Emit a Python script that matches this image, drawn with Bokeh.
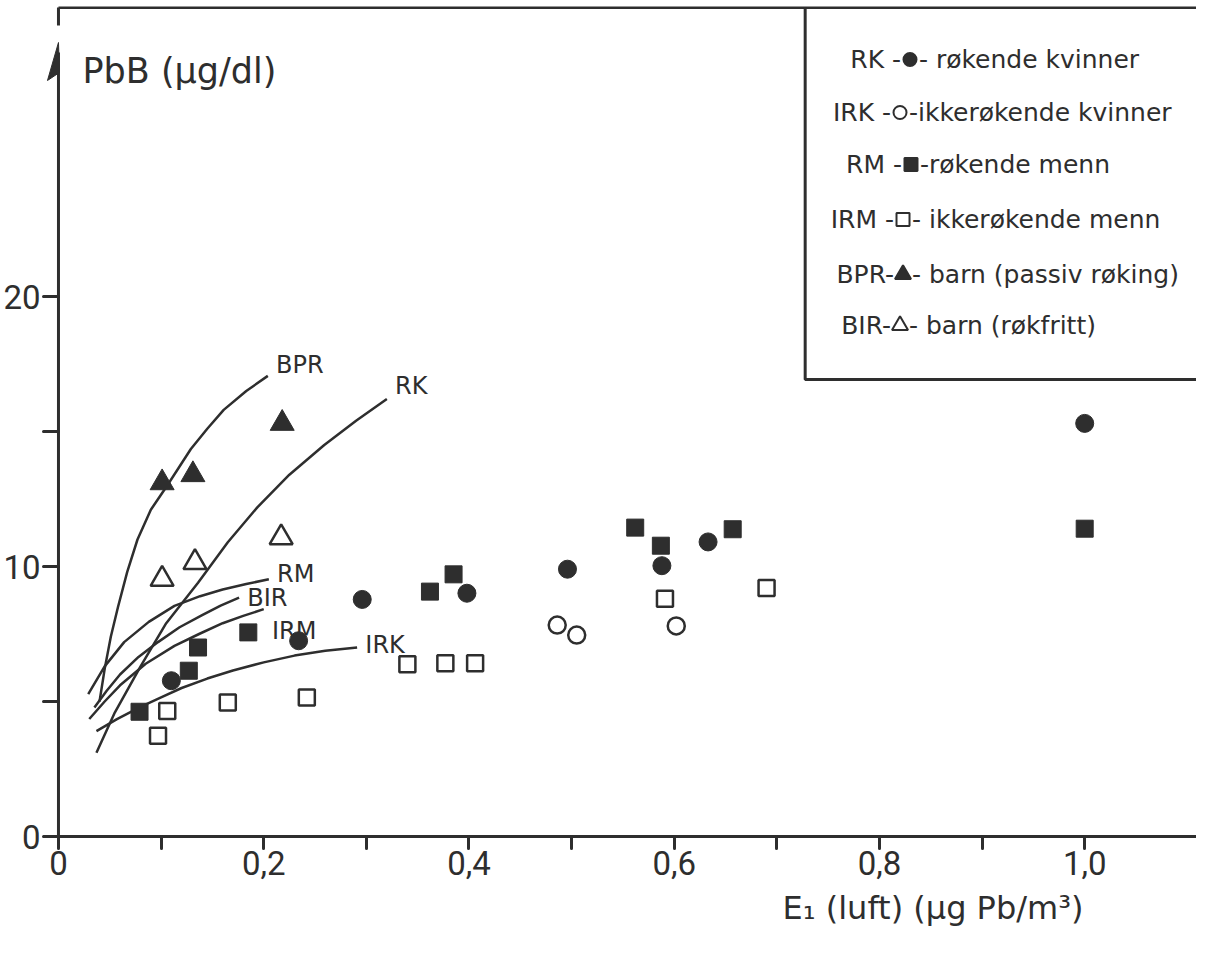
from bokeh.plotting import figure
from bokeh.models import Range1d, FixedTicker, Label, Title
from bokeh.embed import file_html
from bokeh.resources import INLINE

# ---------------- data ----------------
rk_x = [0.110, 0.234, 0.296, 0.398, 0.496, 0.588, 0.633, 1.0]
rk_y = [5.77, 7.25, 8.78, 9.01, 9.90, 10.03, 10.91, 15.3]

irk_x = [0.486, 0.505, 0.602]
irk_y = [7.83, 7.46, 7.80]

rm_x = [0.079, 0.127, 0.136, 0.185, 0.362, 0.385, 0.562, 0.587, 0.657, 1.0]
rm_y = [4.62, 6.14, 7.00, 7.56, 9.07, 9.71, 11.44, 10.77, 11.38, 11.4]

irm_x = [0.097, 0.106, 0.165, 0.242, 0.340, 0.377, 0.406, 0.591, 0.690]
irm_y = [3.73, 4.65, 4.96, 5.15, 6.38, 6.42, 6.42, 8.81, 9.20]

bpr_x = [0.101, 0.131, 0.218]
bpr_y = [13.1, 13.4, 15.3]

bir_x = [0.101, 0.133, 0.217]
bir_y = [9.53, 10.15, 11.07]

# fitted curves
bpr_cx = [0.040, 0.045, 0.051, 0.058, 0.067, 0.077, 0.090, 0.106, 0.129, 0.145, 0.161, 0.183, 0.204]
bpr_cy = [5.0, 6.2, 7.4, 8.5, 9.8, 11.0, 12.1, 13.0, 14.35, 15.1, 15.8, 16.5, 17.06]
rk_cx = [0.037, 0.055, 0.080, 0.105, 0.136, 0.165, 0.194, 0.225, 0.259, 0.290, 0.320]
rk_cy = [3.1, 4.6, 6.3, 7.9, 9.4, 10.9, 12.2, 13.4, 14.5, 15.4, 16.2]
rm_cx = [0.029, 0.045, 0.064, 0.088, 0.113, 0.138, 0.160, 0.183, 0.205]
rm_cy = [5.27, 6.3, 7.2, 7.95, 8.54, 8.9, 9.15, 9.35, 9.53]
bir_cx = [0.035, 0.047, 0.060, 0.078, 0.097, 0.118, 0.140, 0.158, 0.176]
bir_cy = [4.78, 5.4, 6.0, 6.65, 7.2, 7.75, 8.2, 8.55, 8.85]
irm_cx = [0.030, 0.045, 0.060, 0.085, 0.113, 0.137, 0.160, 0.180, 0.200]
irm_cy = [4.35, 5.0, 5.6, 6.4, 7.06, 7.5, 7.9, 8.17, 8.42]
irk_cx = [0.037, 0.057, 0.080, 0.100, 0.120, 0.145, 0.170, 0.200, 0.230, 0.260, 0.291]
irk_cy = [3.9, 4.35, 4.8, 5.15, 5.5, 5.85, 6.15, 6.45, 6.7, 6.88, 7.0]

x_ticks = [0, 0.1, 0.2, 0.3, 0.4, 0.5, 0.6, 0.7, 0.8, 0.9, 1.0]
x_tick_labels = ["0", "", "0,2", "", "0,4", "", "0,6", "", "0,8", "", "1,0"]
y_ticks = [0, 5, 10, 15, 20]
y_tick_labels = ["0", "", "10", "", "20"]

legend_codes = ["RK -", "IRK -", "RM -", "IRM -", "BPR-", "BIR-"]
legend_desc = ["- røkende kvinner", "-ikkerøkende kvinner", "-røkende menn",
               "- ikkerøkende menn", "- barn (passiv røking)", "- barn (røkfritt)"]
legend_marker = ["circle", "circle", "square", "square", "triangle", "triangle"]
legend_filled = [True, False, True, False, True, False]

curve_labels = ["BPR", "RK", "RM", "BIR", "IRM", "IRK"]

# ---------------- layout ----------------
INK = "#2e2e2e"
FONT = "DejaVu Sans"
NUMFONT = "Roboto"
W, H = 1196, 937
PAD = 15                          # frame starts 15 px left of the y axis line
LEFT, TOP = 56 - PAD, 6
FRAME_H = 830
PXX, PXY = 1028.0, 27.0          # pixels per data unit
x_start = -PAD / PXX
x_end = (W - 56) / PXX
y_end = FRAME_H / PXY


def X(px):   # page pixel -> data x (layout helper for annotations)
    return (px - 64) / PXX


def Y(py):   # page pixel -> data y
    return (844 - py) / PXY


p = figure(width=W, height=H, x_range=Range1d(x_start, x_end), y_range=Range1d(0, y_end),
           output_backend="svg", toolbar_location=None,
           min_border_left=LEFT, min_border_right=0, min_border_top=TOP,
           min_border_bottom=H - TOP - FRAME_H)
p.outline_line_color = None
p.grid.visible = False
p.background_fill_color = "white"
p.border_fill_color = "white"

for ax, ticks, labels in ((p.xaxis[0], x_ticks, x_tick_labels), (p.yaxis[0], y_ticks, y_tick_labels)):
    ax.ticker = FixedTicker(ticks=ticks, minor_ticks=[])
    ax.major_label_overrides = {t: l for t, l in zip(ticks, labels)}
    ax.axis_line_width = 3
    ax.axis_line_color = INK
    ax.major_tick_line_width = 3
    ax.major_tick_line_color = INK
    ax.major_tick_line_cap = "round"
    ax.minor_tick_out = 0
    ax.minor_tick_in = 0
    ax.major_label_text_font = NUMFONT
    ax.major_label_text_font_size = "33px"
    ax.major_label_text_color = INK
p.xaxis.major_tick_out = 12
p.xaxis.major_tick_in = 0
p.xaxis.major_label_standoff = 2
# y axis: ticks reach from the frame edge to the drawn axis line at x = 0
p.yaxis.axis_line_color = None
p.yaxis.major_tick_out = 0
p.yaxis.major_tick_in = PAD
p.yaxis.major_label_standoff = 3

# y axis line, arrow head (half barb) and the top frame corner
p.line([0, 0], [0, Y(60)], line_width=3, line_color=INK)
p.patch([X(64), X(53), X(65)], [Y(50), Y(88), Y(80)], fill_color=INK, line_color=INK, line_width=1)
p.line([0, x_end], [Y(15), Y(15)], line_width=3, line_color=INK)
p.line([0, 0], [Y(15), Y(33)], line_width=3, line_color=INK)

# x-axis title (right part of the bottom band)
p.add_layout(Title(text="E₁ (luft) (µg Pb/m³)", align="left", offset=724 + PAD,
                   text_font=FONT, text_font_size="32px", text_font_style="normal",
                   text_color=INK, standoff=18), "below")

# fitted curves
for cx, cy in ((bpr_cx, bpr_cy), (rk_cx, rk_cy), (rm_cx, rm_cy),
               (bir_cx, bir_cy), (irm_cx, irm_cy), (irk_cx, irk_cy)):
    p.line(cx, cy, line_width=2.5, line_color=INK, line_join="round")

# curve end labels
label_ends = [(bpr_cx, bpr_cy), (rk_cx, rk_cy), (rm_cx, rm_cy),
              (bir_cx, bir_cy), (irm_cx, irm_cy), (irk_cx, irk_cy)]
label_dy = [0.4, 0.5, 0.2, 0.0, -0.8, 0.1]
for name, (cx, cy), dy in zip(curve_labels, label_ends, label_dy):
    p.add_layout(Label(x=cx[-1] + 0.008, y=cy[-1] + dy, text=name, text_font=FONT,
                       text_font_size="24px", text_color=INK, text_baseline="middle"))

# data points
p.scatter(rk_x, rk_y, marker="circle", size=18, fill_color=INK, line_color=INK)
p.scatter(irk_x, irk_y, marker="circle", size=17, fill_color="white", line_color=INK, line_width=2.5)
p.scatter(rm_x, rm_y, marker="square", size=17, fill_color=INK, line_color=INK)
p.scatter(irm_x, irm_y, marker="square", size=16, fill_color="white", line_color=INK, line_width=2.5)
p.scatter(bpr_x, bpr_y, marker="triangle", size=24, fill_color=INK, line_color=INK)
p.scatter(bir_x, bir_y, marker="triangle", size=23, fill_color="white", line_color=INK, line_width=2.5)

# legend box
p.line([X(812), X(812), x_end], [Y(15), Y(387), Y(387)], line_width=3, line_color=INK)
row_y = [67, 120, 172, 227, 282, 333]
mark_x = [917, 907, 918, 910, 910, 907]
for code, desc, mk, filled, ry, mx in zip(legend_codes, legend_desc, legend_marker,
                                          legend_filled, row_y, mark_x):
    p.add_layout(Label(x=X(mx - 9), y=Y(ry), text=code, text_font=FONT, text_font_size="25px",
                       text_color=INK, text_align="right", text_baseline="middle"))
    p.add_layout(Label(x=X(mx + 9), y=Y(ry), text=desc, text_font=FONT, text_font_size="25px",
                       text_color=INK, text_align="left", text_baseline="middle"))
    sz = 13 if mk != "triangle" else 16
    p.scatter([X(mx)], [Y(ry)], marker=mk, size=sz, line_width=2,
              fill_color=INK if filled else "white", line_color=INK)

# y-axis title
p.add_layout(Label(x=X(88), y=Y(78), text="PbB (µg/dl)", text_font=FONT, text_font_size="35px",
                   text_color=INK, text_baseline="middle"))

open("out.html", "w").write(file_html(p, INLINE))
